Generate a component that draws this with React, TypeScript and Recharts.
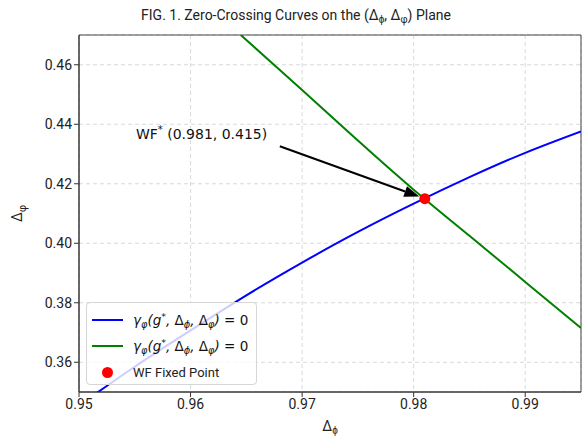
import React from 'react'
import {
  ComposedChart,
  Line,
  Scatter,
  XAxis,
  YAxis,
  CartesianGrid,
  ReferenceLine,
  ReferenceDot,
  ReferenceArea,
} from 'recharts'

// values
const xTicks = [0.95, 0.96, 0.97, 0.98, 0.99]
const yTicks = [0.36, 0.38, 0.4, 0.42, 0.44, 0.46]

const phiCurveX = [0.95, 0.955, 0.96, 0.965, 0.97, 0.975, 0.98, 0.985, 0.99, 0.995]
const phiCurveY = [0.3455, 0.3585, 0.3707, 0.3825, 0.3935, 0.4038, 0.4133, 0.4222, 0.4304, 0.4376]

const varphiCurveX = [0.9645, 0.97, 0.975, 0.98, 0.985, 0.99, 0.995]
const varphiCurveY = [0.47, 0.4515, 0.4345, 0.418, 0.4025, 0.387, 0.3715]

const fixedPoint = [{ x: 0.981, y: 0.415 }]
const arrowTail = { x: 0.968, y: 0.4326 }
const arrowHead = { x: 0.9805, y: 0.4157 }
const labelAt = { x: 0.9551, y: 0.4366 }

const phiData = phiCurveX.map((x, i) => ({ x, y: phiCurveY[i] }))
const varphiData = varphiCurveX.map((x, i) => ({ x, y: varphiCurveY[i] }))

const SANS = 'Roboto, "Open Sans", sans-serif'
const MATH = '"DejaVu Sans", sans-serif'

const Arrow = (props: any) => {
  const { x1, y1, x2, y2 } = props
  const dx = x2 - x1
  const dy = y2 - y1
  const len = Math.sqrt(dx * dx + dy * dy)
  const ux = dx / len
  const uy = dy / len
  const hl = 15
  const hw = 5.5
  const bx = x2 - ux * hl
  const by = y2 - uy * hl
  return (
    <g>
      <line x1={x1} y1={y1} x2={bx} y2={by} stroke="#000" strokeWidth={2} />
      <polygon
        points={`${x2},${y2} ${bx - uy * hw},${by + ux * hw} ${bx + uy * hw},${by - ux * hw}`}
        fill="#000"
      />
    </g>
  )
}

const AnnoText = (props: any) => (
  <text x={props.cx} y={props.cy + 5} fontFamily={MATH} fontSize={14} fill="#111">
    WF<tspan dy={-6} fontSize={10}>*</tspan>
    <tspan dy={6}> (0.981, 0.415)</tspan>
  </text>
)

const Sub = ({ children }: { children: React.ReactNode }) => (
  <sub style={{ fontSize: '0.72em', verticalAlign: '-0.3em', lineHeight: 0 }}>{children}</sub>
)

const LegendRow = ({ color, kind, children }: { color: string; kind: 'line' | 'dot'; children: React.ReactNode }) => (
  <div style={{ display: 'flex', alignItems: 'center', height: 26 }}>
    <div style={{ width: 32, display: 'flex', justifyContent: 'center' }}>
      {kind === 'line' ? (
        <div style={{ width: 31, height: 2, background: color }} />
      ) : (
        <div style={{ width: 11, height: 11, borderRadius: '50%', background: color }} />
      )}
    </div>
    <div style={{ marginLeft: 10 }}>{children}</div>
  </div>
)

const gammaLabel = (
  <span style={{ fontFamily: MATH, fontSize: 13.5, fontStyle: 'italic', color: '#111', whiteSpace: 'nowrap' }}>
    γ<Sub>φ</Sub>(g<sup style={{ fontSize: '0.7em', lineHeight: 0 }}>*</sup>,{' '}
    <span style={{ fontStyle: 'normal' }}>Δ</span>
    <Sub>ϕ</Sub>, <span style={{ fontStyle: 'normal' }}>Δ</span>
    <Sub>φ</Sub>) <span style={{ fontStyle: 'normal' }}>= 0</span>
  </span>
)

export default function App() {
  return (
    <div style={{ position: 'absolute', left: 0, top: 0, width: 582, height: 439, background: '#fff' }}>
      <div
        style={{
          position: 'absolute',
          left: 0,
          width: 592,
          top: 7,
          textAlign: 'center',
          fontFamily: SANS,
          fontSize: 14,
          color: '#222',
        }}
      >
        FIG. 1. Zero-Crossing Curves on the (Δ<Sub>ϕ</Sub>, Δ<Sub>φ</Sub>) Plane
      </div>
      <ComposedChart width={582} height={439} margin={{ top: 35, right: 1, bottom: 0, left: 0 }}>
        <CartesianGrid stroke="#cfcfcf" strokeDasharray="4 3" strokeWidth={0.8} />
        <XAxis
          type="number"
          dataKey="x"
          domain={[0.95, 0.995]}
          ticks={xTicks}
          tickFormatter={(v: number) => v.toFixed(2)}
          allowDataOverflow
          height={47}
          stroke="#333"
          tickSize={5}
          tick={{ fill: '#222', fontSize: 14, fontFamily: SANS }}
          label={{
            content: (p: any) => {
              const vb = p.viewBox
              return (
                <text x={vb.x + vb.width / 2} y={vb.y + 39} textAnchor="middle" fontFamily={SANS} fontSize={14} fill="#222">
                  Δ<tspan dy={3} fontSize={10}>ϕ</tspan>
                </text>
              )
            },
          }}
        />
        <YAxis
          type="number"
          dataKey="y"
          domain={[0.35, 0.47]}
          ticks={yTicks}
          tickFormatter={(v: number) => v.toFixed(2)}
          allowDataOverflow
          width={79}
          stroke="#333"
          tickSize={5}
          tick={{ fill: '#222', fontSize: 14, fontFamily: SANS }}
          label={{
            content: (p: any) => {
              const vb = p.viewBox
              const cx = 22
              const cy = vb.y + vb.height / 2
              return (
                <text x={cx} y={cy} textAnchor="middle" fontFamily={SANS} fontSize={14} fill="#222" transform={`rotate(-90 ${cx} ${cy})`}>
                  Δ<tspan dy={4} fontSize={10}>φ</tspan>
                </text>
              )
            },
          }}
        />
        <ReferenceArea x1={0.95} x2={0.995} y1={0.35} y2={0.47} fill="none" stroke="#444" strokeWidth={1} />
        <Line data={phiData} dataKey="y" type="natural" stroke="#0000ff" strokeWidth={2} dot={false} isAnimationActive={false} />
        <Line data={varphiData} dataKey="y" type="natural" stroke="#008000" strokeWidth={2} dot={false} isAnimationActive={false} />
        <ReferenceLine segment={[arrowTail, arrowHead]} shape={Arrow} />
        <ReferenceDot x={labelAt.x} y={labelAt.y} r={0} shape={AnnoText} />
        <Scatter
          data={fixedPoint}
          dataKey="y"
          fill="#ff0000"
          isAnimationActive={false}
          shape={(p: any) => <circle cx={p.cx} cy={p.cy} r={5.5} fill="#ff0000" />}
        />
      </ComposedChart>
      <div
        style={{
          position: 'absolute',
          left: 86,
          top: 302,
          width: 171,
          height: 83,
          boxSizing: 'border-box',
          border: '1px solid #d6d6d6',
          borderRadius: 4,
          background: 'rgba(255,255,255,0.8)',
          padding: '4px 0 0 4px',
        }}
      >
        <LegendRow color="#0000ff" kind="line">{gammaLabel}</LegendRow>
        <LegendRow color="#008000" kind="line">{gammaLabel}</LegendRow>
        <LegendRow color="#ff0000" kind="dot">
          <span style={{ fontFamily: SANS, fontSize: 13, color: '#222' }}>WF Fixed Point</span>
        </LegendRow>
      </div>
    </div>
  )
}
